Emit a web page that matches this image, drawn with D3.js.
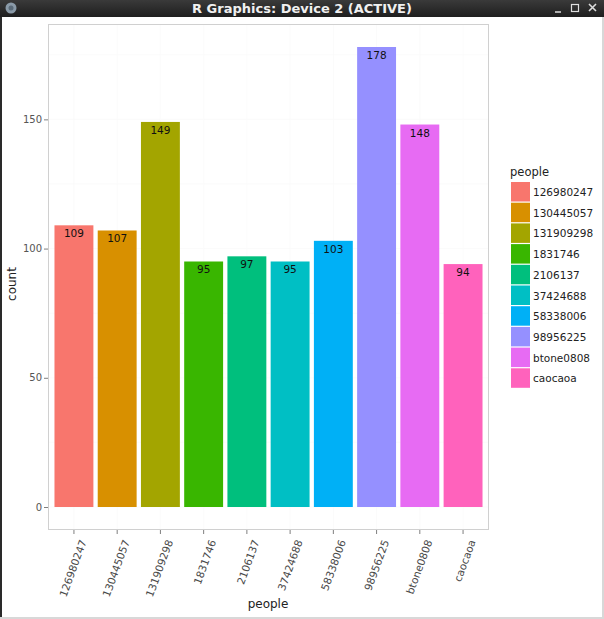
<!DOCTYPE html>
<html><head><meta charset="utf-8">
<script src="https://cdn.jsdelivr.net/npm/d3@7"></script>
<style>
html,body{margin:0;padding:0;background:#fff;}
svg{display:block;}
</style></head>
<body>
<svg id="c" width="604" height="619"></svg>
<script>
const categories = ["126980247","130445057","131909298","1831746","2106137","37424688","58338006","98956225","btone0808","caocaoa"];
const counts = [109,107,149,95,97,95,103,178,148,94];
const colors = ["#F8766D","#D89000","#A3A500","#39B600","#00BF7D","#00BFC4","#00B0F6","#9590FF","#E76BF3","#FF62BC"];
const yTicks = [0,50,100,150];
const yMinor = [25,75,125,175];

const svg = d3.select("#c");
const W = 604, H = 619;

// window chrome
const grad = svg.append("defs").append("linearGradient").attr("id","tb").attr("x1",0).attr("y1",0).attr("x2",0).attr("y2",1);
grad.append("stop").attr("offset",0).attr("stop-color","#3a3a3a");
grad.append("stop").attr("offset",1).attr("stop-color","#1e1e1e");
svg.append("rect").attr("x",0).attr("y",0).attr("width",W).attr("height",H).attr("fill","#fff");
svg.append("rect").attr("x",0).attr("y",0).attr("width",W).attr("height",17).attr("fill","url(#tb)");
svg.append("rect").attr("x",0).attr("y",17).attr("width",2).attr("height",H-17).attr("fill","#2a2a2a");
svg.append("rect").attr("x",W-2).attr("y",17).attr("width",2).attr("height",H-17).attr("fill","#d8d8d8");
svg.append("rect").attr("x",0).attr("y",H-2).attr("width",W).attr("height",2).attr("fill","#d8d8d8");
svg.append("text").attr("x",302).attr("y",13).attr("text-anchor","middle")
  .attr("font-family","DejaVu Sans").attr("font-weight","bold").attr("font-size",13).attr("fill","#f0f0f0")
  .text("R Graphics: Device 2 (ACTIVE)");
// icon
svg.append("circle").attr("cx",11).attr("cy",8).attr("r",5.5).attr("fill","#8a9aa8");
svg.append("circle").attr("cx",11).attr("cy",8).attr("r",2.5).attr("fill","#5a6a78");
// buttons
svg.append("line").attr("x1",555).attr("x2",561).attr("y1",12).attr("y2",12).attr("stroke","#ddd").attr("stroke-width",1.5);
svg.append("rect").attr("x",571.5).attr("y",4.5).attr("width",7).attr("height",7).attr("fill","none").attr("stroke","#ddd").attr("stroke-width",1.2);
svg.append("path").attr("d","M589,4 L596,11 M596,4 L589,11").attr("stroke","#ddd").attr("stroke-width",1.6);

// panel
const pL = 48, pR = 489, pT = 24, pB = 530;
const x = d3.scaleBand().domain(categories).range([pL + 0.6*43.2 - 43.2/2, pR - 0.6*43.2 + 43.2/2]).paddingInner(0.1).paddingOuter(0.05);
const ymax = 178;
const y = d3.scaleLinear().domain([-0.05*ymax, ymax*1.05]).range([pB, pT]);

const g = svg.append("g");
g.append("rect").attr("x",pL).attr("y",pT).attr("width",pR-pL).attr("height",pB-pT).attr("fill","#fff");
// faint grid
yMinor.concat(yTicks).forEach(v=>{
  g.append("line").attr("x1",pL).attr("x2",pR).attr("y1",y(v)).attr("y2",y(v)).attr("stroke","#fafafa").attr("stroke-width",0.8);
});
categories.forEach(c=>{
  const cx = x(c)+x.bandwidth()/2;
  g.append("line").attr("x1",cx).attr("x2",cx).attr("y1",pT).attr("y2",pB).attr("stroke","#fafafa").attr("stroke-width",0.8);
});

// bars
g.selectAll("rect.bar").data(categories).enter().append("rect").attr("class","bar")
  .attr("x",d=>x(d)).attr("width",x.bandwidth())
  .attr("y",(d,i)=>y(counts[i])).attr("height",(d,i)=>y(0)-y(counts[i]))
  .attr("fill",(d,i)=>colors[i]);
g.selectAll("text.lab").data(categories).enter().append("text").attr("class","lab")
  .attr("x",d=>x(d)+x.bandwidth()/2).attr("y",(d,i)=>y(counts[i])+12)
  .attr("text-anchor","middle").attr("font-family","DejaVu Sans").attr("font-size",10.5).attr("fill","#111")
  .text((d,i)=>counts[i]);

g.append("rect").attr("x",pL+0.5).attr("y",pT+0.5).attr("width",pR-pL-1).attr("height",pB-pT-1).attr("fill","none").attr("stroke","#d0d0d0").attr("stroke-width",1);

// y axis
const ya = svg.append("g").attr("transform",`translate(${pL},0)`)
  .call(d3.axisLeft(y).tickValues(yTicks).tickSize(4).tickPadding(2));
ya.select(".domain").remove();
ya.selectAll("line").attr("stroke","#7f7f7f");
ya.selectAll("text").attr("font-family","DejaVu Sans").attr("font-size",10).attr("fill","#555");

// x axis
const xa = svg.append("g").attr("transform",`translate(0,${pB})`)
  .call(d3.axisBottom(x).tickSize(4).tickPadding(2));
xa.select(".domain").remove();
xa.selectAll("line").attr("stroke","#7f7f7f");
xa.selectAll("text").attr("font-family","DejaVu Sans").attr("font-size",10.5).attr("fill","#4a4a4a")
  .attr("text-anchor","end").attr("dy",null).attr("y",null)
  .attr("transform","translate(9,10) rotate(-70)").attr("dominant-baseline","central");

// axis titles
svg.append("text").attr("x",268).attr("y",608).attr("text-anchor","middle").attr("font-family","DejaVu Sans").attr("font-size",12).attr("fill","#222").text("people");
svg.append("text").attr("transform","translate(16,284) rotate(-90)").attr("text-anchor","middle").attr("font-family","DejaVu Sans").attr("font-size",12).attr("fill","#222").text("count");

// legend
const lg = svg.append("g");
lg.append("text").attr("x",510).attr("y",176).attr("font-family","DejaVu Sans").attr("font-size",11.5).attr("fill","#222").text("people");
categories.forEach((c,i)=>{
  const ky = 182 + i*20.7;
  lg.append("rect").attr("x",511).attr("y",ky).attr("width",19).attr("height",19.5).attr("fill",colors[i]);
  lg.append("text").attr("x",533).attr("y",ky+10).attr("dominant-baseline","central").attr("font-family","DejaVu Sans").attr("font-size",10.5).attr("fill","#222").text(c);
});
</script>
</body></html>
